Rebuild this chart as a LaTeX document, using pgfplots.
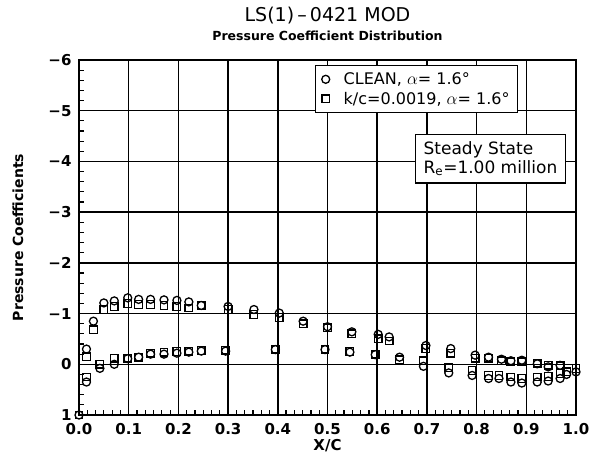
\documentclass[border=0pt]{standalone}
\usepackage{fontspec}
\setmainfont{DejaVu Sans}
\usepackage{pgfplots}
\pgfplotsset{compat=1.18}

% clean airfoil, alpha = 1.6 deg
\pgfplotstableread{
x y
0.000 1.00
0.015 -0.30
0.015 0.35
0.029 -0.85
0.042 0.08
0.050 -1.21
0.071 -1.25
0.071 0.00
0.098 -1.31
0.098 -0.11
0.120 -1.28
0.120 -0.14
0.144 -1.28
0.144 -0.20
0.171 -1.27
0.171 -0.20
0.197 -1.26
0.197 -0.22
0.221 -1.23
0.221 -0.24
0.246 -1.16
0.246 -0.26
0.300 -1.14
0.295 -0.26
0.352 -1.08
0.395 -0.29
0.403 -1.01
0.451 -0.85
0.500 -0.74
0.495 -0.29
0.549 -0.64
0.545 -0.24
0.602 -0.59
0.596 -0.19
0.624 -0.54
0.645 -0.14
0.693 0.04
0.698 -0.37
0.748 -0.31
0.744 0.17
0.797 -0.18
0.791 0.22
0.824 -0.14
0.824 0.28
0.845 0.28
0.850 -0.10
0.869 -0.07
0.869 0.35
0.891 -0.08
0.891 0.37
0.922 -0.01
0.922 0.35
0.944 0.05
0.944 0.33
0.968 0.02
0.968 0.28
0.981 0.20
1.000 0.15
}\clean

% roughness k/c = 0.0019
\pgfplotstableread{
x y
0.000 1.00
0.015 -0.15
0.015 0.25
0.029 -0.68
0.042 0.00
0.050 -1.08
0.071 -1.14
0.071 -0.12
0.098 -1.20
0.098 -0.12
0.120 -1.18
0.120 -0.14
0.144 -1.18
0.144 -0.22
0.171 -1.16
0.171 -0.24
0.197 -1.14
0.197 -0.25
0.221 -1.11
0.221 -0.26
0.246 -1.16
0.246 -0.27
0.300 -1.08
0.295 -0.28
0.352 -0.98
0.395 -0.30
0.403 -0.92
0.451 -0.80
0.500 -0.72
0.495 -0.30
0.549 -0.60
0.545 -0.25
0.602 -0.50
0.596 -0.20
0.624 -0.46
0.645 -0.09
0.693 -0.07
0.698 -0.31
0.748 -0.22
0.744 0.07
0.797 -0.12
0.791 0.12
0.824 -0.12
0.824 0.22
0.845 0.22
0.850 -0.07
0.869 -0.05
0.869 0.25
0.891 -0.05
0.891 0.28
0.922 -0.02
0.922 0.25
0.944 0.02
0.944 0.24
0.968 0.03
0.968 0.18
0.981 0.15
1.000 0.08
}\rough

\begin{document}
\begin{tikzpicture}
\useasboundingbox (-79pt,-46pt) rectangle (512pt,415pt);
\begin{axis}[
    scale only axis,
    width=497pt, height=355pt,
    at={(0,0)}, anchor=south west,
    xmin=0, xmax=1,
    ymin=-6, ymax=1,
    y dir=reverse,
    xtick={0,0.1,...,1.0},
    ytick={-6,-5,...,1},
    yticklabels={−6,−5,−4,−3,−2,−1,0,1},
    minor x tick num=5,
    minor y tick num=4,
    tick pos=left,
    tick align=inside,
    major tick length=0pt,
    minor tick length=5pt,
    every minor tick/.style={line width=1.2pt, black},
    grid=major,
    major grid style={line width=1.5pt, black},
    axis line style={line width=2pt},
    xticklabel style={/pgf/number format/fixed, /pgf/number format/fixed zerofill,
        /pgf/number format/precision=1, yshift=-5pt},
    yticklabel style={xshift=-4pt},
    /pgf/number format/assume math mode=true,
    ticklabel style={font=\fontsize{15}{15}\selectfont\bfseries},
    xlabel={X/C},
    ylabel={Pressure Coefficients},
    xlabel style={font=\fontsize{15}{15}\selectfont\bfseries,
        at={(axis description cs:0.5,-0.085)}, anchor=center},
    ylabel style={font=\fontsize{14}{14}\selectfont\bfseries,
        at={(axis description cs:-0.123,0.5)}, anchor=center},
    title={{\fontsize{19}{19}\selectfont LS(1)\,–\,0421 MOD}\\[6pt]{\fontsize{12.5}{12.5}\selectfont\bfseries Pressure Coefficient Distribution}},
    title style={align=center, at={(axis description cs:0.5,1.027)}, anchor=south},
    legend style={at={(0.475,0.986)}, anchor=north west, draw=black, line width=1.3pt,
        font=\fontsize{16}{16}\selectfont, inner xsep=6pt, inner ysep=5pt,
        row sep=2pt, column sep=12pt},
    legend cell align=left,
    clip=false,
]
\addplot[only marks, mark=o, mark size=4pt, line width=1.3pt] table {\clean};
\addlegendentry{CLEAN, $\alpha$= 1.6°}
\addplot[only marks, mark=square, mark size=3.8pt, line width=1.3pt] table {\rough};
\addlegendentry{k/c=0.0019, $\alpha$= 1.6°}
\node[draw, line width=1.3pt, fill=white, align=left, anchor=north west, inner xsep=8pt, inner ysep=7pt,
    font=\fontsize{17}{19}\selectfont] at (axis cs:0.676,-4.55)
    {Steady State\\R\textsubscript{e}=1.00 million};
\end{axis}
\end{tikzpicture}
\end{document}
